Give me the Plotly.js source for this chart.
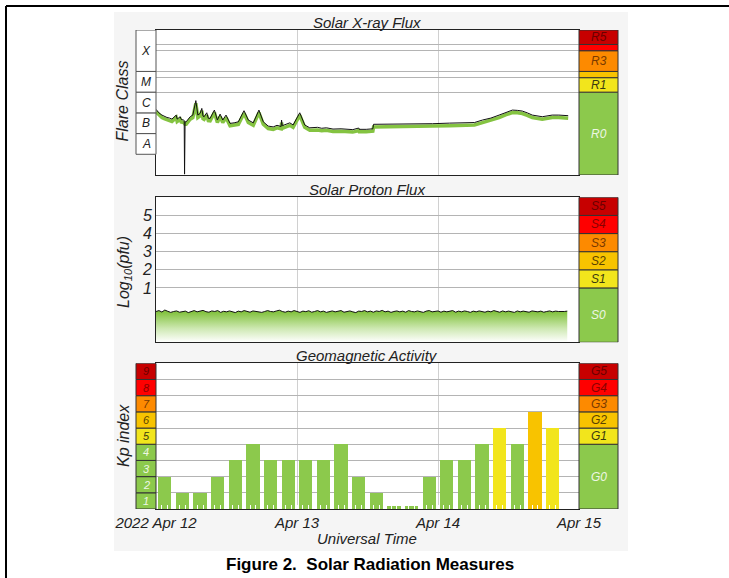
<!DOCTYPE html>
<html><head><meta charset="utf-8">
<script src="https://cdn.plot.ly/plotly-3.0.1.min.js"></script>
<style>html,body{margin:0;padding:0;background:#fff}#chart{width:729px;height:578px}</style>
</head><body><div id="chart"></div>
<script>
// ---------------- data ----------------
const dayTicks = ['2022-04-12', '2022-04-13', '2022-04-14', '2022-04-15'];
const dayLabels = ['2022 Apr 12', 'Apr 13', 'Apr 14', 'Apr 15'];

// X-ray flux (W/m^2), hours after 2022-04-12 00:00 UT
const xrayHours = [
  0, 0.5, 1.01, 1.4, 1.86, 2.3, 2.71, 3.44, 3.6, 4.12,
  4.3, 4.69, 4.8, 4.86, 4.95, 5.14, 5.82, 6.27, 6.78, 7.12,
  7.51, 7.80, 8.0, 8.19, 8.64, 8.9, 9.21, 9.94, 10.45, 10.91,
  11.36, 11.92, 12.60, 13.3, 14.02, 14.98, 15.71, 16.56, 17.52, 18.26,
  19.10, 19.95, 20.6, 21.3, 21.37, 21.5, 21.93, 22.78, 23.34, 24.47,
  25.32, 26.17, 27.5, 28.2, 29.00, 30.13, 31.5, 32.96, 33.5, 34.5,
  34.6, 35.78, 36.91, 37.03, 39.0, 41.44, 44.0, 47.09, 50.0, 52.74,
  53.5, 54.2, 55.57, 57.0, 58.40, 59.5, 60.66, 61.5, 62.35, 63.2,
  64.05, 65.75, 66.5, 67.44, 68.57, 69.3, 70.16];
const xrayLong = [
  1.47e-6, 1.0e-6, 7.8e-7, 6.8e-7, 6.0e-7, 5.6e-7, 5.0e-7, 7.8e-7, 5.0e-7, 6.5e-7,
  4.8e-7, 4.5e-7, 4.3e-7, 1.1e-9, 3.7e-7, 3.7e-7, 6.5e-7, 7.8e-7, 3.9e-6, 7.8e-7,
  9.4e-7, 1.64e-6, 7.0e-7, 6.5e-7, 1.01e-6, 5.5e-7, 5.4e-7, 1.36e-6, 4.5e-7, 8.7e-7,
  4.5e-7, 7.8e-7, 3.1e-7, 3.3e-7, 3.7e-7, 1.27e-6, 4.5e-7, 3.3e-7, 1.36e-6, 3.7e-7,
  2.3e-7, 2.1e-7, 2.5e-7, 2.2e-7, 4.5e-7, 2.4e-7, 2.6e-7, 3.3e-7, 2.6e-7, 1.01e-6,
  2.6e-7, 1.9e-7, 2.0e-7, 1.8e-7, 1.9e-7, 1.65e-7, 1.7e-7, 1.6e-7, 1.55e-7, 1.85e-7,
  1.6e-7, 1.6e-7, 1.7e-7, 2.8e-7, 2.8e-7, 2.9e-7, 2.9e-7, 3.0e-7, 3.2e-7, 3.3e-7,
  3.6e-7, 3.4e-7, 4.5e-7, 5.6e-7, 7.8e-7, 1.05e-6, 1.36e-6, 1.32e-6, 1.22e-6, 1.0e-6,
  7.8e-7, 6.5e-7, 7.3e-7, 7.8e-7, 7.8e-7, 7.5e-7, 7.3e-7];
const xrayShort = [
  1.12e-6, 7.6e-7, 5.9e-7, 5.2e-7, 4.6e-7, 4.3e-7, 3.8e-7, 5.9e-7, 3.8e-7, 4.9e-7,
  3.6e-7, 3.4e-7, 3.3e-7, 3.1e-7, 2.8e-7, 2.8e-7, 4.9e-7, 5.9e-7, 2.9e-6, 5.9e-7,
  7.1e-7, 1.25e-6, 5.3e-7, 4.9e-7, 7.7e-7, 4.2e-7, 4.1e-7, 1.03e-6, 3.4e-7, 6.6e-7,
  3.4e-7, 5.9e-7, 2.4e-7, 2.5e-7, 2.8e-7, 9.6e-7, 3.4e-7, 2.5e-7, 1.03e-6, 2.8e-7,
  1.75e-7, 1.6e-7, 1.9e-7, 1.7e-7, 3.4e-7, 1.8e-7, 2.0e-7, 2.5e-7, 2.0e-7, 7.7e-7,
  2.0e-7, 1.45e-7, 1.5e-7, 1.37e-7, 1.45e-7, 1.25e-7, 1.3e-7, 1.22e-7, 1.18e-7, 1.4e-7,
  1.22e-7, 1.22e-7, 1.3e-7, 2.1e-7, 2.1e-7, 2.2e-7, 2.2e-7, 2.3e-7, 2.4e-7, 2.5e-7,
  2.7e-7, 2.6e-7, 3.4e-7, 4.3e-7, 5.9e-7, 8.0e-7, 1.03e-6, 1.0e-6, 9.3e-7, 7.6e-7,
  5.9e-7, 4.9e-7, 5.5e-7, 5.9e-7, 5.9e-7, 5.7e-7, 5.5e-7];

// Proton flux, log10(pfu), half-hourly from 2022-04-12 00:00 UT
const protonStepHours = 0.5;
const protonLog = [
  -0.30,-0.25,-0.33,-0.22,-0.29,-0.35,-0.30,-0.27,-0.34,-0.31,
  -0.28,-0.36,-0.30,-0.25,-0.32,-0.29,-0.24,-0.31,-0.34,-0.27,
  -0.30,-0.25,-0.35,-0.29,-0.32,-0.27,-0.30,-0.36,-0.28,-0.32,
  -0.25,-0.30,-0.34,-0.27,-0.29,-0.32,-0.35,-0.30,-0.25,-0.30,
  -0.32,-0.27,-0.23,-0.30,-0.34,-0.28,-0.32,-0.25,-0.30,-0.35,
  -0.28,-0.31,-0.26,-0.34,-0.30,-0.25,-0.32,-0.28,-0.35,-0.30,
  -0.27,-0.32,-0.28,-0.25,-0.34,-0.30,-0.27,-0.32,-0.36,-0.28,
  -0.30,-0.25,-0.32,-0.28,-0.34,-0.27,-0.30,-0.24,-0.32,-0.28,
  -0.35,-0.30,-0.27,-0.32,-0.28,-0.34,-0.25,-0.30,-0.32,-0.27,
  -0.30,-0.35,-0.28,-0.25,-0.32,-0.30,-0.27,-0.34,-0.28,-0.32,
  -0.30,-0.25,-0.34,-0.28,-0.32,-0.27,-0.30,-0.35,-0.28,-0.32,
  -0.27,-0.30,-0.34,-0.28,-0.32,-0.25,-0.30,-0.34,-0.27,-0.32,
  -0.28,-0.30,-0.35,-0.27,-0.32,-0.28,-0.30,-0.34,-0.27,-0.30,
  -0.32,-0.28,-0.34,-0.30,-0.27,-0.32,-0.28,-0.30,-0.32,-0.30,
  -0.28];

// Planetary Kp index, 3-hour intervals (bar centres)
const kpTimes = ['2022-04-12 01:30','2022-04-12 04:30','2022-04-12 07:30','2022-04-12 10:30','2022-04-12 13:30','2022-04-12 16:30','2022-04-12 19:30','2022-04-12 22:30',
  '2022-04-13 01:30','2022-04-13 04:30','2022-04-13 07:30','2022-04-13 10:30','2022-04-13 13:30','2022-04-13 16:30','2022-04-13 19:30','2022-04-13 22:30',
  '2022-04-14 01:30','2022-04-14 04:30','2022-04-14 07:30','2022-04-14 10:30','2022-04-14 13:30','2022-04-14 16:30','2022-04-14 19:30'];
const kpValues = [2, 1, 1, 2, 3, 4, 3, 3, 3, 3, 4, 2, 1, 0.17, 0.17, 2, 3, 3, 4, 5, 4, 6, 5];

// scales
const flareLabels = ['A', 'B', 'C', 'M', 'X'];
const flareBounds = [1e-8, 1e-7, 1e-6, 1e-5, 1e-4, 1e-2];
const rLabels = ['R0', 'R1', '', 'R3', '', 'R5'];
const rBounds = [1e-9, 1e-5, 5e-5, 1e-4, 1e-3, 2e-3, 1e-2];
const sLabels = ['S0', 'S1', 'S2', 'S3', 'S4', 'S5'];
const sBounds = [-2, 1, 2, 3, 4, 5, 6];
const gLabels = ['G0', 'G1', 'G2', 'G3', 'G4', 'G5'];
const gBounds = [0, 4, 5, 6, 7, 8, 9];
const kpLabels = ['1', '2', '3', '4', '5', '6', '7', '8', '9'];
const kpBounds = [0, 1, 2, 3, 4, 5, 6, 7, 8, 9];
const protonTicks = [1, 2, 3, 4, 5];
const kpGrid = [1, 2, 3, 4, 5, 6, 7, 8];

// ---------------- styling ----------------
const C_GREEN = '#8cc94c', C_YELLOW = '#f2e51c', C_AMBER = '#f8c300', C_ORANGE = '#fd8a00', C_RED = '#ff0000', C_DRED = '#c70000';
const levelColors = [C_GREEN, C_YELLOW, C_AMBER, C_ORANGE, C_RED, C_DRED];
const levelText = ['#eef7e4', '#3a3a10', '#5a4200', '#7a3a00', '#8a0000', '#6a0000'];
const kpBoxColors = [C_GREEN, C_GREEN, C_GREEN, C_GREEN, C_YELLOW, C_AMBER, C_ORANGE, C_RED, C_DRED];
const kpBoxText = ['#eef7e4', '#eef7e4', '#eef7e4', '#eef7e4', '#3a3a10', '#5a4200', '#7a3a00', '#8a0000', '#6a0000'];
const FONT = 'Liberation Sans, Arial, sans-serif';
const W = 729, H = 578;
const px = v => v / W, py = v => 1 - v / H;

function hoursToDate(h) {
  const d = new Date(Date.UTC(2022, 3, 12) + h * 3600000);
  return d.toISOString().replace('T', ' ').slice(0, 19);
}
const xrayTimes = xrayHours.map(hoursToDate);
const protonTimes = protonLog.map((_, i) => hoursToDate(i * protonStepHours));

const xDom = [px(156), px(579)];
const leftCol = [px(136), px(156)], rightCol = [px(579), px(618)];

const traces = [
  {x: xrayTimes, y: xrayShort, type: 'scatter', mode: 'lines', line: {color: '#84c341', width: 3.5}, xaxis: 'x', yaxis: 'y', hoverinfo: 'skip'},
  {x: xrayTimes, y: xrayLong, type: 'scatter', mode: 'lines', line: {color: '#111', width: 1}, xaxis: 'x', yaxis: 'y'},
  {x: protonTimes, y: protonTimes.map(() => sBounds[0]), type: 'scatter', mode: 'lines', line: {width: 0, color: 'rgba(0,0,0,0)'}, xaxis: 'x2', yaxis: 'y2', hoverinfo: 'skip'},
  {x: protonTimes, y: protonLog, type: 'scatter', mode: 'lines', line: {color: '#111', width: 1}, fill: 'tonexty',
    fillgradient: {type: 'vertical', start: sBounds[0], stop: -0.35, colorscale: [[0, 'rgba(255,255,255,1)'], [0.45, '#cfe9b4'], [1, '#84c341']]},
    xaxis: 'x2', yaxis: 'y2'},
  {x: kpTimes, y: kpValues, type: 'bar', width: 2.25 * 3600000, xaxis: 'x3', yaxis: 'y3',
    marker: {color: kpValues.map(v => v >= 6 ? C_AMBER : (v >= 5 ? C_YELLOW : C_GREEN)), line: {width: 0}}}
];

const shapes = [
  {type: 'rect', xref: 'paper', yref: 'paper', x0: px(114), x1: px(628), y0: py(551), y1: py(12), fillcolor: '#f5f5f5', line: {width: 0}, layer: 'below'},
  {type: 'line', xref: 'paper', yref: 'paper', x0: px(6), x1: 1, y0: py(6), y1: py(6), line: {color: '#000', width: 2}},
  {type: 'line', xref: 'paper', yref: 'paper', x0: px(6), x1: px(6), y0: 0, y1: py(6), line: {color: '#000', width: 2}},
];
['', '2', '3'].forEach(s => shapes.push({type: 'rect', xref: 'x' + s + ' domain', yref: 'y' + s + ' domain', x0: 0, x1: 1, y0: 0, y1: 1, fillcolor: '#fff', line: {width: 0}, layer: 'below'}));

const annotations = [];
function ann(text, x, y, size, extra) {
  annotations.push(Object.assign({text: text, x: x, y: y, xref: 'paper', yref: 'paper', showarrow: false, xanchor: 'center', yanchor: 'middle',
    font: {family: FONT, size: size, color: '#222', style: 'italic'}}, extra || {}));
}
function column(yref, bounds, fills, labels, textCols, col, isLog, size, borderCol) {
  for (let i = 0; i < labels.length; i++) {
    shapes.push({type: 'rect', xref: 'paper', yref: yref, x0: col[0], x1: col[1], y0: bounds[i], y1: bounds[i + 1],
      fillcolor: fills[i], line: {color: borderCol, width: 1}});
    if (labels[i]) {
      const mid = isLog ? (Math.log10(bounds[i]) + Math.log10(bounds[i + 1])) / 2 : (bounds[i] + bounds[i + 1]) / 2;
      annotations.push({text: labels[i], x: (col[0] + col[1]) / 2, y: mid, xref: 'paper', yref: yref, showarrow: false,
        xanchor: 'center', yanchor: 'middle', font: {family: FONT, size: size, color: textCols[i], style: 'italic'}});
    }
  }
}
column('y', flareBounds, flareLabels.map(() => '#fff'), flareLabels, flareLabels.map(() => '#222'), leftCol, true, 12, '#555');
column('y', rBounds, levelColors, rLabels, levelText, rightCol, true, 12, '#333');
column('y2', sBounds, levelColors, sLabels, levelText, rightCol, false, 12, '#333');
column('y3', gBounds, levelColors, gLabels, levelText, rightCol, false, 12, '#333');
column('y3', kpBounds, kpBoxColors, kpLabels, kpBoxText, leftCol, false, 11, '#333');

ann('Solar X-ray Flux', px(367), py(22), 15);
ann('Solar Proton Flux', px(367), py(189), 15);
ann('Geomagnetic Activity', px(367), py(355), 15);
ann('Flare Class', px(121.5), py(101), 16, {textangle: -90});
ann('Log<sub>10</sub>(pfu)', px(124), py(272), 16, {textangle: -90});
ann('Kp index', px(123), py(436), 16, {textangle: -90});
ann('Universal Time', px(367), py(538), 15);
ann('Figure 2.  Solar Radiation Measures', px(370), py(564), 17, {font: {family: 'Liberation Sans Narrow, Arial Narrow, sans-serif', size: 17, color: '#000', weight: 'bold'}});

const xCommon = {type: 'date', range: ['2022-04-12', '2022-04-15'], domain: xDom, tickmode: 'array', tickvals: dayTicks, ticktext: dayLabels,
  showgrid: true, gridcolor: '#d0d0d0', gridwidth: 1, showline: true, mirror: true, linecolor: '#222', linewidth: 1, zeroline: false,
  ticks: '', fixedrange: true};
const yCommon = {showline: true, mirror: true, linecolor: '#222', linewidth: 1, zeroline: false, showgrid: true, gridcolor: '#b4b4b4', gridwidth: 1, ticks: '', fixedrange: true};

const layout = {
  width: W, height: H, margin: {l: 0, r: 0, t: 0, b: 0}, paper_bgcolor: '#fff', plot_bgcolor: 'rgba(0,0,0,0)', showlegend: false, bargap: 0,
  font: {family: FONT, color: '#222'},
  xaxis: Object.assign({}, xCommon, {anchor: 'y', showticklabels: false}),
  yaxis: Object.assign({}, yCommon, {type: 'log', range: [-9, -2], domain: [py(175), py(30)], tickmode: 'array', tickvals: rBounds.slice(1, 6), showticklabels: false}),
  xaxis2: Object.assign({}, xCommon, {anchor: 'y2', showticklabels: false}),
  yaxis2: Object.assign({}, yCommon, {range: [sBounds[0], sBounds[6]], domain: [py(342.3), py(197.3)], tickmode: 'array', tickvals: protonTicks,
    tickfont: {family: FONT, size: 16, color: '#222', style: 'italic'}}),
  xaxis3: Object.assign({}, xCommon, {anchor: 'y3', showticklabels: true, ticks: 'inside', ticklen: 4, tickcolor: '#fff',
    minor: {dtick: 3600000, ticks: 'inside', ticklen: 4, tickcolor: '#fff', showgrid: false},
    tickfont: {family: FONT, size: 15, color: '#222', style: 'italic'}}),
  yaxis3: Object.assign({}, yCommon, {range: [0, 9], domain: [py(509), py(363.3)], tickmode: 'array', tickvals: kpGrid, showticklabels: false}),
  shapes: shapes, annotations: annotations
};
Plotly.newPlot('chart', traces, layout, {displayModeBar: false, staticPlot: true});
</script></body></html>
